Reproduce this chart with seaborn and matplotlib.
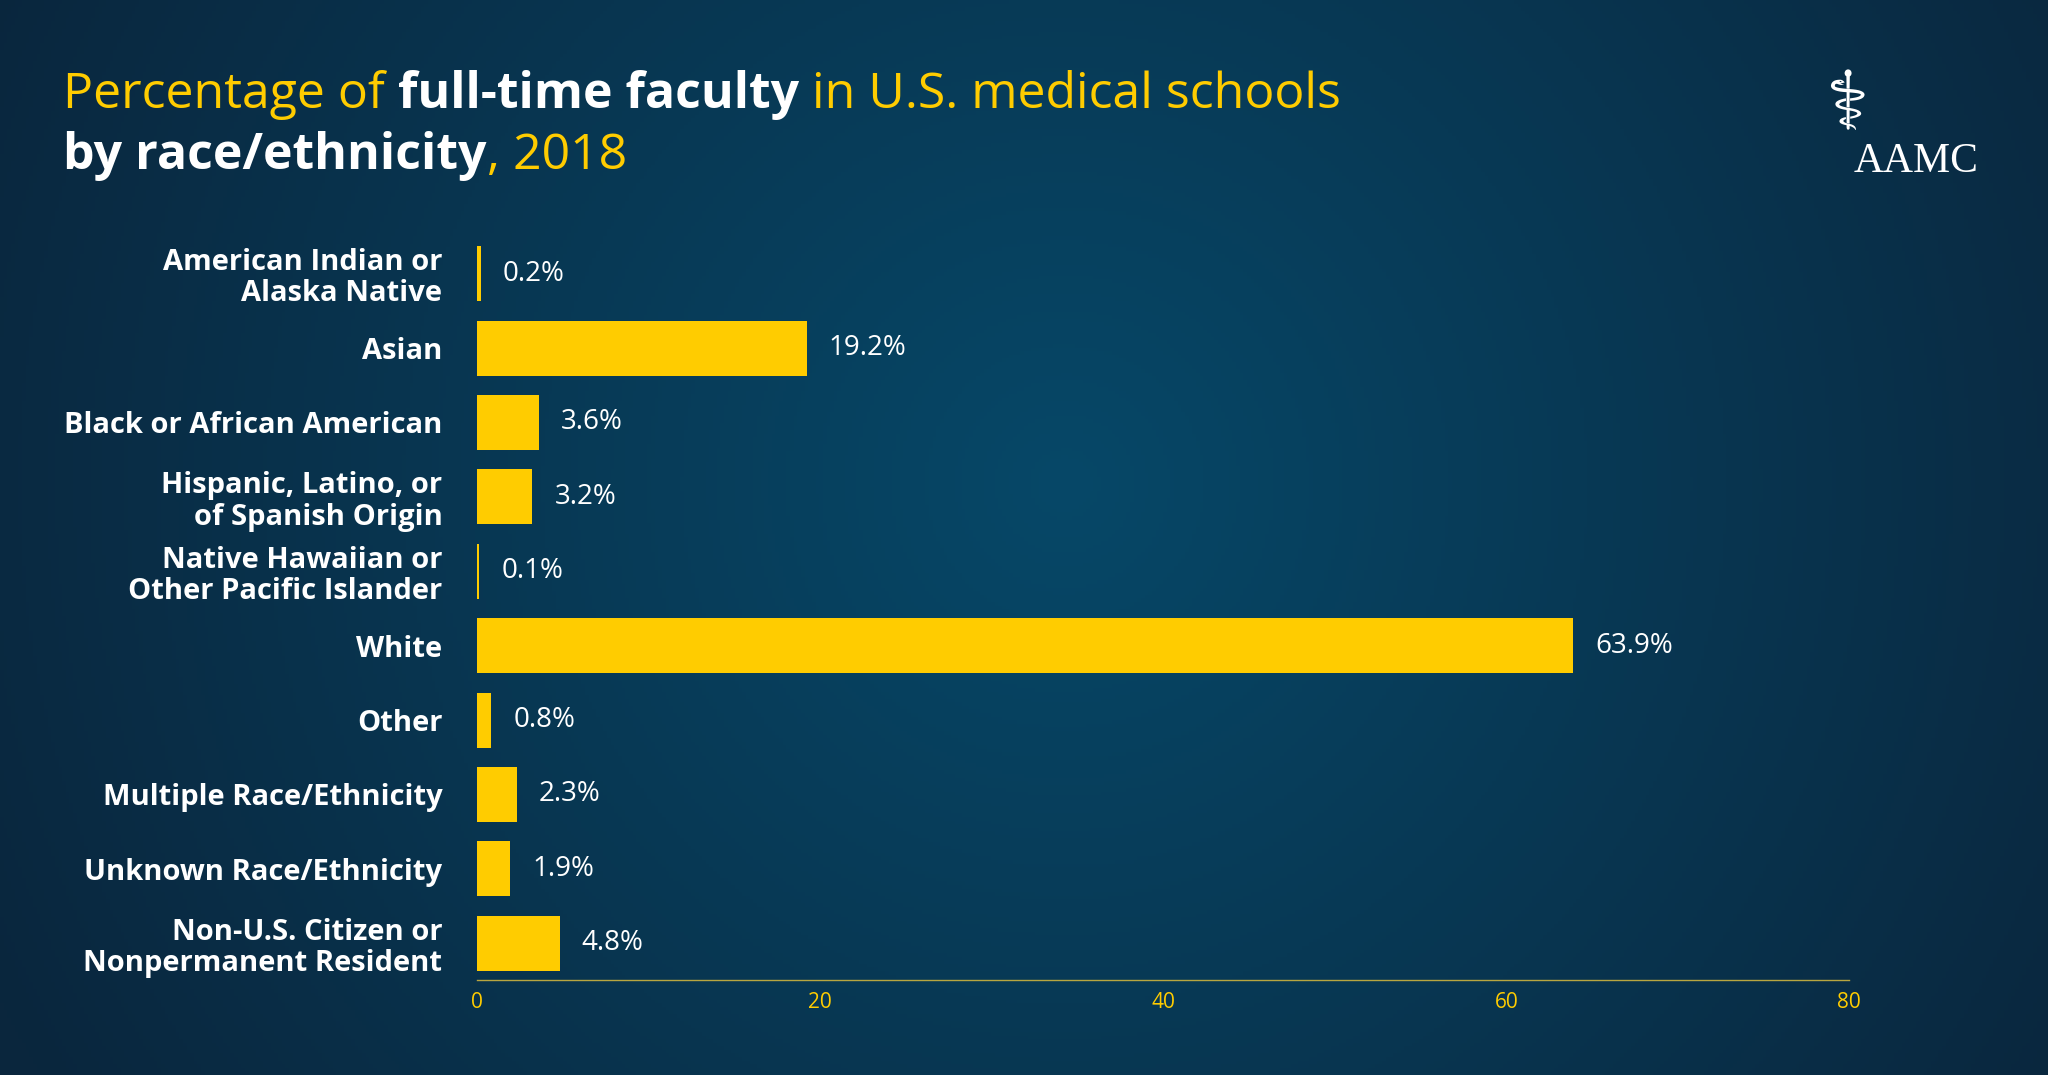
import numpy as np
import pandas as pd
import matplotlib
matplotlib.use("Agg")
import matplotlib.pyplot as plt
import seaborn as sns

# Data
groups = ["American Indian or\nAlaska Native", "Asian", "Black or African American",
          "Hispanic, Latino, or\nof Spanish Origin", "Native Hawaiian or\nOther Pacific Islander",
          "White", "Other", "Multiple Race/Ethnicity", "Unknown Race/Ethnicity",
          "Non-U.S. Citizen or\nNonpermanent Resident"]
percent = [0.2, 19.2, 3.6, 3.2, 0.1, 63.9, 0.8, 2.3, 1.9, 4.8]
ticks = [0, 20, 40, 60, 80]

df = pd.DataFrame({"group": groups, "percent": percent})

YELLOW = "#FFCC00"
sns.set_theme(style="white")
plt.rcParams['font.family'] = ['Open Sans', 'DejaVu Sans']

fig = plt.figure(figsize=(20.48, 10.75), dpi=100)

# background radial gradient
bg = fig.add_axes([0, 0, 1, 1])
yy, xx = np.mgrid[0:1:300j, 0:1:560j]
r = np.sqrt(((xx - 0.52) * 1.9) ** 2 + (yy - 0.45) ** 2)
r = np.clip(r / 1.1, 0, 1)
c0 = np.array([0x06, 0x48, 0x68]) / 255
c1 = np.array([0x0a, 0x26, 0x3d]) / 255
img = c0[None, None, :] * (1 - r[..., None]) + c1[None, None, :] * r[..., None]
bg.imshow(img, aspect="auto", extent=[0, 1, 0, 1])
bg.axis("off")

ax = fig.add_axes([0.233, 0.088, 0.670, 0.692])
sns.barplot(data=df, x="percent", y="group", color=YELLOW, saturation=1,
            width=0.74, linewidth=0, edgecolor="none", ax=ax)
ax.set_facecolor("none")
ax.set_xlim(0, 80)
ax.set_xticks(ticks)
ax.set_xticklabels([str(t) for t in ticks], color=YELLOW, fontsize=15)
ax.set_ylim(9.5, -0.5)
ax.set_xlabel("")
ax.set_ylabel("")
for s in ["top", "right", "left"]:
    ax.spines[s].set_visible(False)
ax.spines["bottom"].set_color("#b8a640")
ax.spines["bottom"].set_linewidth(1)
ax.tick_params(axis="y", length=0, pad=25)
ax.tick_params(axis="x", length=0, pad=8)
for lbl in ax.get_yticklabels():
    lbl.set_color("white")
    lbl.set_fontweight("bold")
    lbl.set_fontsize(21)
    lbl.set_linespacing(1.1)
for i, v in enumerate(percent):
    ax.text(v + 1.3, i, f"{v}%", color="white", fontsize=20, va="center")

# title with mixed colours
renderer = fig.canvas.get_renderer()
def line(parts, y):
    x = 0.031
    for txt, col, wt in parts:
        t = fig.text(x, y, txt, color=col, fontweight=wt, fontsize=36, va="baseline")
        bb = t.get_window_extent(renderer=renderer)
        x += bb.width / fig.bbox.width
line([("Percentage of ", YELLOW, "normal"), ("full-time faculty", "white", "bold"),
      (" in U.S. medical schools", YELLOW, "normal")], 0.900)
line([("by race/ethnicity", "white", "bold"), (", 2018", YELLOW, "normal")], 0.843)

# logo
fig.text(0.905, 0.84, "AAMC", color="white", fontsize=30, family="Liberation Serif")
fig.text(0.891, 0.88, "\u2695", color="white", fontsize=58, family="DejaVu Sans")

fig.savefig("out.png", dpi=100)
